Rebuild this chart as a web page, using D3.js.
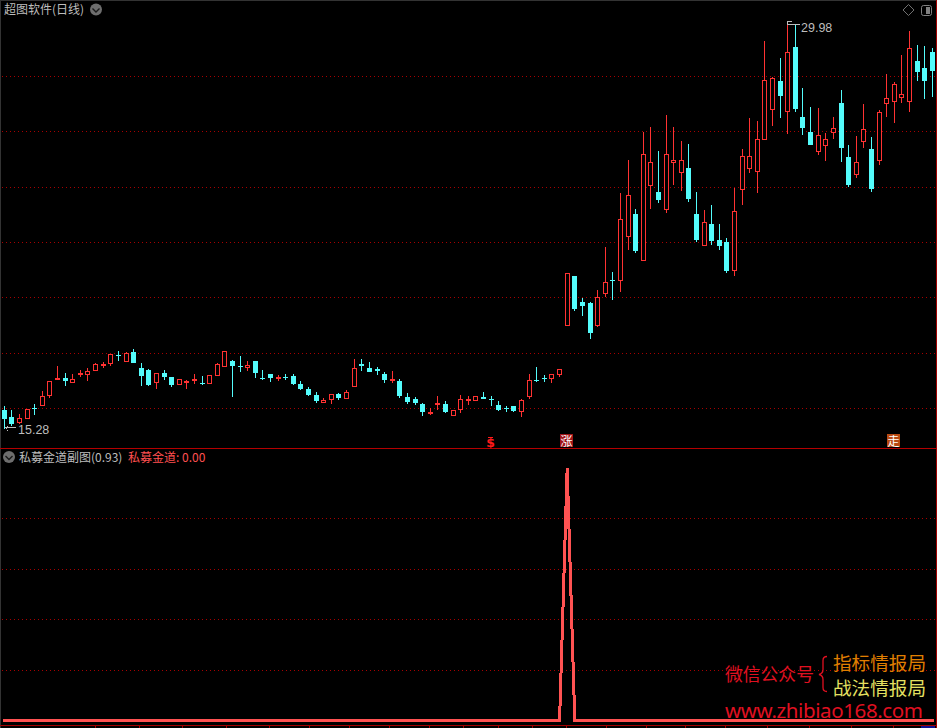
<!DOCTYPE html>
<html><head><meta charset="utf-8">
<script src="https://cdn.jsdelivr.net/npm/d3@7/dist/d3.min.js"></script>
<style>html,body{margin:0;padding:0;background:#000;overflow:hidden}svg{display:block}text{font-family:"Noto Sans CJK SC","Noto Sans",sans-serif}</style>
</head><body><div id="chart"></div>
<script>
const opens=[15.98,15.72,15.50,15.64,16.05,16.13,16.49,17.08,17.13,16.96,
17.26,17.22,17.39,17.57,17.64,17.94,17.72,18.08,17.48,17.40,
16.96,17.31,17.15,16.86,16.97,17.01,16.95,16.92,17.19,17.51,
17.73,17.57,17.50,17.73,17.12,17.26,17.15,17.18,17.20,16.91,
16.72,16.52,16.24,16.35,16.55,16.38,16.82,17.63,17.49,17.45,
17.27,17.03,17.02,16.44,16.37,16.19,15.88,16.18,16.19,15.77,
15.99,16.32,16.31,16.43,16.37,16.16,16.04,16.12,15.92,16.46,
17.04,17.14,17.10,17.25,19.01,20.80,19.86,19.83,19.00,20.15,
20.66,20.62,22.22,23.03,21.34,24.05,23.82,23.18,24.87,24.51,
24.69,23.03,21.88,22.67,22.10,22.02,20.98,23.90,24.64,24.56,
25.71,26.79,27.82,26.72,29.04,26.52,25.98,25.26,25.49,25.95,
27.03,25.08,24.44,25.62,25.37,24.95,27.00,27.08,27.22,27.05,
28.54,28.29,28.86];
const highs=[16.12,15.98,15.83,16.00,16.19,16.66,17.01,17.56,17.30,17.26,
17.42,17.48,17.66,17.69,17.98,18.10,18.06,18.17,17.67,17.46,
17.30,17.40,17.15,17.08,17.06,17.27,17.20,17.22,17.66,18.09,
17.78,17.92,17.75,17.73,17.42,17.26,17.25,17.27,17.27,17.02,
16.80,16.62,16.41,16.54,16.60,16.70,17.81,17.81,17.70,17.52,
17.34,17.38,17.09,16.59,16.44,16.23,16.05,16.48,16.30,15.98,
16.52,16.48,16.48,16.62,16.48,16.30,16.12,16.12,16.36,17.27,
17.52,17.24,17.26,17.44,20.90,20.80,20.01,19.86,20.30,21.84,
20.94,23.79,24.98,23.21,25.98,26.16,25.30,26.60,26.16,25.66,
25.55,23.82,23.18,23.36,22.67,22.17,23.97,25.37,26.49,26.38,
29.26,27.95,28.65,29.98,29.87,27.57,26.88,26.85,25.95,26.52,
27.50,25.52,25.84,26.99,25.80,26.78,28.07,27.78,28.76,29.62,
29.12,29.08,29.01];
const lows=[15.28,15.40,15.47,15.64,15.78,16.13,16.42,17.08,16.85,16.96,
17.18,17.03,17.39,17.48,17.57,17.75,17.72,17.68,16.85,16.85,
16.73,17.06,16.80,16.86,16.73,16.92,16.87,16.92,17.19,17.51,
16.46,17.36,17.39,17.14,17.06,16.99,17.03,17.06,16.87,16.68,
16.48,16.23,16.24,16.20,16.34,16.38,16.82,17.38,17.36,17.24,
16.95,16.95,16.41,16.19,16.16,15.76,15.80,15.98,15.87,15.77,
15.87,16.16,16.31,16.37,16.12,15.94,15.90,15.90,15.72,16.37,
16.98,16.98,16.95,17.16,19.01,19.54,19.36,18.53,18.96,20.04,
19.94,20.22,21.74,21.63,21.34,23.21,23.43,23.07,24.08,23.86,
23.46,22.02,21.88,21.92,21.74,20.91,20.80,23.36,24.51,23.79,
25.71,26.20,26.49,25.91,26.70,25.88,25.52,25.16,24.94,25.73,
24.90,24.00,24.33,25.41,23.82,24.80,26.52,26.31,27.03,26.70,
27.82,27.17,27.24];
const closes=[15.66,15.47,15.68,16.00,16.00,16.47,17.01,17.12,17.03,17.08,
17.31,17.38,17.62,17.64,17.98,17.92,18.04,17.68,17.21,16.87,
17.30,17.18,16.87,17.08,17.01,17.08,16.92,17.22,17.62,18.09,
17.57,17.55,17.58,17.32,17.09,17.14,17.18,17.14,16.92,16.73,
16.53,16.31,16.32,16.54,16.41,16.61,17.48,17.57,17.36,17.39,
17.06,17.08,16.48,16.26,16.23,15.90,15.92,16.23,15.90,15.98,
16.36,16.37,16.48,16.38,16.35,15.98,16.01,15.94,16.32,17.04,
17.02,17.10,17.26,17.44,20.90,19.61,19.72,18.75,20.04,20.57,
20.62,22.84,23.70,21.70,25.18,24.89,23.54,25.18,24.96,24.96,
23.57,22.10,22.73,22.06,21.88,20.98,23.13,25.11,25.11,25.72,
27.84,27.92,27.28,28.85,26.81,26.13,25.52,25.86,25.72,26.12,
25.41,24.08,24.89,26.08,23.93,26.69,27.20,27.70,27.34,29.00,
28.14,27.82,28.18];
const indicator=[0,0,0,0,0,0,0,0,0,0,0,0,0,0,0,0,0,0,0,0,0,0,0,0,0,0,0,0,0,0,
0,0,0,0,0,0,0,0,0,0,0,0,0,0,0,0,0,0,0,0,0,0,0,0,0,0,0,0,0,0,
0,0,0,0,0,0,0,0,0,0,0,0,0,0,1,0,0,0,0,0,0,0,0,0,0,0,0,0,0,0,
0,0,0,0,0,0,0,0,0,0,0,0,0,0,0,0,0,0,0,0,0,0,0,0,0,0,0,0,0,0,0,0,0];
const priceGrid=[16.04,18.02,20.03,22.01,23.99,26.01,27.97];
const indicatorGrid=[0.2,0.4,0.6,0.8];
const timeTicks=[11.92,17.71,23.36,29.15,34.8,40.05,45.31,50.57,55.83,60.3,64.9,69.37,73.84,79.1,84.35,89.48,94.74,100.26,105.78,111.3,116.83];
const signalIndex=[64,74,117];
const signalText=["$","涨","走"];
const titleMain="超图软件(日线)";
const titleSub="私募金道副图(0.93)";
const titleLine="私募金道: 0.00";
const highLabel="29.98", lowLabel="15.28";

const W=937,H=728;
const RED="#ff3232",CYAN="#54fcfc",GRID="#a80000",TXT="#bdbdbd";
const svg=d3.select("#chart").append("svg").attr("width",W).attr("height",H);
svg.append("rect").attr("width",W).attr("height",H).attr("fill","#000");

const x=d3.scaleLinear().domain([0,122]).range([4.3,932.3]);
const y=d3.scaleLinear().domain([15.28,29.98]).range([429.33,21]);
const ySub=d3.scaleLinear().domain([0,1]).range([720.5,468]);
const px=i=>Math.floor(x(i));
const idx=d3.range(opens.length);

// frame
const frame=svg.append("g").attr("shape-rendering","crispEdges");
frame.append("rect").attr("x",0).attr("y",0).attr("width",W).attr("height",1).attr("fill","#333");
frame.append("rect").attr("x",0).attr("y",0).attr("width",1).attr("height",H).attr("fill","#333");
frame.append("rect").attr("x",936).attr("y",0).attr("width",1).attr("height",H).attr("fill","#a00000");
frame.append("rect").attr("x",0).attr("y",448).attr("width",W).attr("height",1).attr("fill","#b40000");

// grids
const gridG=svg.append("g").attr("shape-rendering","crispEdges").attr("stroke",GRID).attr("stroke-dasharray","1 3");
gridG.selectAll(".pg").data(priceGrid).join("line").attr("x1",2).attr("x2",935)
  .attr("y1",d=>Math.floor(y(d))+.5).attr("y2",d=>Math.floor(y(d))+.5);
gridG.selectAll(".ig").data(indicatorGrid).join("line").attr("x1",2).attr("x2",935)
  .attr("y1",d=>Math.floor(ySub(d))+.5).attr("y2",d=>Math.floor(ySub(d))+.5);

// candles
const cG=svg.append("g").attr("shape-rendering","crispEdges");
const isUp=i=>closes[i]>=opens[i];
cG.selectAll(".wick").data(idx).join("line")
  .attr("x1",i=>px(i)+.5).attr("x2",i=>px(i)+.5)
  .attr("y1",i=>Math.round(y(highs[i]))).attr("y2",i=>Math.round(y(lows[i])))
  .attr("stroke",i=>isUp(i)?RED:CYAN);
cG.selectAll(".body").data(idx).join("rect")
  .each(function(i){
    const t=Math.round(y(Math.max(opens[i],closes[i]))),b=Math.round(y(Math.min(opens[i],closes[i])));
    const s=d3.select(this);
    if(isUp(i)){
      s.attr("x",px(i)-2+.5).attr("width",4).attr("y",t+.5).attr("height",Math.max(b-t-1,1))
       .attr("fill","#000").attr("stroke",RED);
    }else{
      s.attr("x",px(i)-2).attr("width",5).attr("y",t).attr("height",Math.max(b-t,1)).attr("fill",CYAN);
    }
  });

// high / low annotations
const ann=svg.append("g");
const iHi=highs.indexOf(d3.max(highs)), iLo=lows.indexOf(d3.min(lows));
const loY=Math.round(y(lows[iLo])), hiY=Math.round(y(highs[iHi]));
ann.append("path").attr("d",`M${px(iLo)+1} ${loY-1.5}h11 M${px(iLo)+3.5} ${loY-3.5}v1 M${px(iLo)+2.5} ${loY-2.5}v2 M${px(iLo)+3.5} ${loY+.5}v1`)
  .attr("stroke",TXT).attr("fill","none").attr("shape-rendering","crispEdges");
ann.append("text").attr("x",px(iLo)+14).attr("y",loY+5).attr("font-size",12.5).attr("fill",TXT)
  .style("font-family","Liberation Sans").text(lowLabel);
ann.append("path").attr("d",`M${px(iHi)+.5} ${hiY+4}v-4h4 M${px(iHi)+1} ${hiY+3.5}h12`)
  .attr("stroke",TXT).attr("fill","none").attr("shape-rendering","crispEdges");
ann.append("text").attr("x",px(iHi)+14).attr("y",hiY+11).attr("font-size",12.5).attr("fill",TXT)
  .style("font-family","Liberation Sans").text(highLabel);

// signals on the axis line
const sig=svg.append("g");
signalIndex.forEach((i,k)=>{
  const c=px(i);
  if(signalText[k]==="$"){
    sig.append("text").attr("x",c-.5).attr("y",447).attr("text-anchor","middle").attr("font-size",12.5).attr("font-weight","bold")
      .style("font-family","DejaVu Sans").attr("fill","#ff1a1a").text(signalText[k]);
    sig.append("rect").attr("x",c-3).attr("y",437).attr("width",5).attr("height",1).attr("fill","#ff1a1a").attr("shape-rendering","crispEdges");
  }else{
    const col=signalText[k]==="涨"?"#a01418":"#b84a12";
    sig.append("rect").attr("x",c-7).attr("y",434).attr("width",13).attr("height",13).attr("fill",col).attr("shape-rendering","crispEdges");
    sig.append("text").attr("x",c-0.5).attr("y",445.5).attr("text-anchor","middle").attr("font-size",12).attr("fill","#fff").text(signalText[k]);
  }
});

// indicator line
svg.append("path").datum(indicator)
  .attr("d",d3.line().x((d,i)=>x(i)).y(d=>ySub(d)))
  .attr("fill","none").attr("stroke","#ff5252").attr("stroke-width",3).attr("stroke-linecap","square")
  .attr("stroke-linejoin","miter").attr("shape-rendering","crispEdges");

// time axis
const axis=d3.axisBottom(x).tickValues(timeTicks).tickFormat("").tickSize(4).tickSizeOuter(0);
const axG=svg.append("g").attr("transform","translate(0,725.5)").attr("shape-rendering","crispEdges").call(axis);
axG.selectAll("line").attr("stroke","#a00000");
axG.select(".domain").remove();
svg.append("line").attr("x1",0).attr("x2",W).attr("y1",725.5).attr("y2",725.5).attr("stroke","#a00000").attr("shape-rendering","crispEdges");
svg.append("rect").attr("x",921).attr("y",726).attr("width",14).attr("height",2).attr("fill","#101090").attr("shape-rendering","crispEdges");

// header: chevrons
function chevron(cx,cy){
  const g=svg.append("g");
  g.append("circle").attr("cx",cx).attr("cy",cy).attr("r",6).attr("fill","#6e6e6e");
  g.append("path").attr("d",`M${cx-3.5} ${cy-1}L${cx} ${cy+2.5}L${cx+3.5} ${cy-1}`).attr("fill","none").attr("stroke","#1a1a1a").attr("stroke-width",1.4);
}
chevron(96,9.5); chevron(9,457);
svg.append("text").attr("x",4).attr("y",14).attr("font-size",12).attr("fill",TXT).text(titleMain);
svg.append("text").attr("x",19).attr("y",462).attr("font-size",12).attr("fill",TXT).text(titleSub);
svg.append("text").attr("x",128).attr("y",462).attr("font-size",12).attr("fill","#ff5050").text(titleLine);

// top-right icons
svg.append("path").attr("d","M908.5 4.5L914 10L908.5 15.5L903 10Z").attr("fill","none").attr("stroke","#707070");
svg.append("rect").attr("x",921.5).attr("y",5.5).attr("width",10).attr("height",10).attr("rx",2).attr("fill","none").attr("stroke","#808080");
svg.append("rect").attr("x",926).attr("y",7).attr("width",4).attr("height",7).attr("fill","#808080");

// watermark
const wm=svg.append("g");
wm.append("text").attr("x",725).attr("y",681).attr("font-size",17.8).attr("fill","#e01020").text("微信公众号");
wm.append("path").attr("d","M827 656.5q-4 0 -4 4v9q0 4 -4 5q4 1 4 5v8q0 4 4 4").attr("fill","none").attr("stroke","#e01020").attr("stroke-width",1.3);
wm.append("text").attr("x",833).attr("y",670).attr("font-size",18.6).attr("fill","#e07f00").text("指标情报局");
wm.append("text").attr("x",833).attr("y",694.5).attr("font-size",18.6).attr("fill","#e4e060").text("战法情报局");
wm.append("text").attr("x",725).attr("y",718).attr("font-size",20.5).attr("fill","#e01020").attr("textLength",198).style("font-family","Noto Sans").text("www.zhibiao168.com");
</script></body></html>
